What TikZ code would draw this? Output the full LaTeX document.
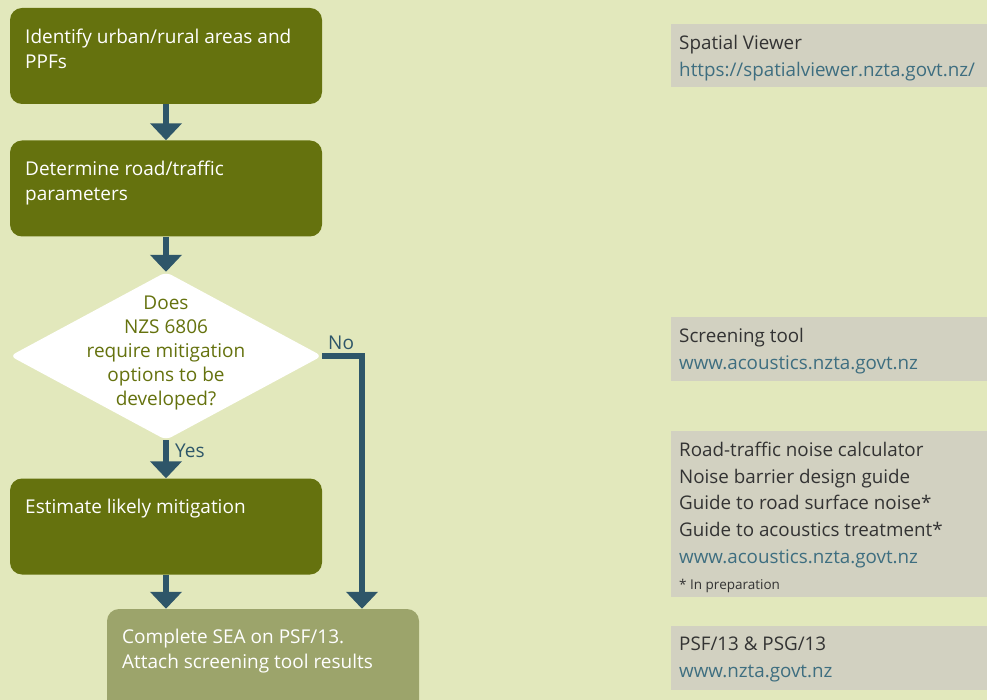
\documentclass[tikz,border=0pt]{standalone}
\usepackage{fontspec}
\setmainfont{Open Sans}
\usetikzlibrary{arrows.meta,shapes.geometric,calc}
\definecolor{bgc}{HTML}{E2E8BC}
\definecolor{olive}{HTML}{65720E}
\definecolor{lolive}{HTML}{9CA46B}
\definecolor{greyb}{HTML}{D2D1C1}
\definecolor{teal}{HTML}{2E5669}
\definecolor{linkc}{HTML}{3E6E80}
\definecolor{darkt}{HTML}{333333}
\tikzset{
  stepbox/.style={fill=olive, rounded corners=12pt, minimum width=312pt, minimum height=96pt, inner sep=0pt},
  lastbox/.style={fill=lolive, rounded corners=12pt, minimum width=312pt, minimum height=104pt, inner sep=0pt},
  boxtext/.style={anchor=north west, text=white, align=left, inner sep=0pt, font=\fontsize{19}{25}\selectfont},
  infobox/.style={fill=greyb, inner sep=0pt, anchor=north west},
  infotext/.style={anchor=north west, text=darkt, align=left, inner sep=0pt, font=\fontsize{18.8}{26.7}\selectfont},
  arr/.style={draw=teal, line width=5.5pt, -{Triangle[length=17pt,width=31pt]}},
  lbl/.style={text=teal, font=\fontsize{19}{22}\selectfont, inner sep=0pt},
}
\begin{document}
\begin{tikzpicture}[x=1pt,y=-1pt]
\clip (0,0) rectangle (987,700);
\fill[bgc] (0,0) rectangle (987,700);
% left flow
\node[stepbox] (b1) at (166,56) {};
\node[boxtext] (t1) at (25,29) {Identify urban/rural areas and\\PPFs};
\node[stepbox] (b2) at (166,188.5) {};
\node[boxtext] (t2) at (25,161) {Determine road/traffic\\parameters};
\node[diamond, fill=white, rounded corners=6pt, minimum width=312pt, minimum height=168pt, inner sep=0pt] (dia) at (166,356) {};
\node[text=olive, align=center, inner sep=0pt, font=\fontsize{19}{24}\selectfont] (dt) at (166,352.5) {Does\\NZS 6806\\require mitigation\\options to be\\developed?};
\node[stepbox] (b3) at (166,526.5) {};
\node[boxtext] (t3) at (25,499) {Estimate likely mitigation};
\node[lastbox] (b4) at (263,661) {};
\node[boxtext] (t4) at (122,629) {Complete SEA on PSF/13.\\Attach screening tool results};
% connectors
\draw[arr] (b1.south) -- (b2.north);
\draw[arr] (b2.south) -- (dia.north);
\draw[arr] (dia.south) -- (b3.north);
\draw[arr] (b3.south) -- (b3.south |- b4.north);
\draw[arr] (dia.east) -| ([xshift=99pt]b4.north);
\node[lbl, anchor=west] (yes) at (175,451) {Yes};
\node[lbl, anchor=west] (no) at (328,343) {No};
% right info boxes
\node[infobox, minimum width=316pt, minimum height=63pt] (ra) at (671,24) {};
\node[infotext] (rat) at (679,35) {Spatial Viewer\\\textcolor{linkc}{https://spatialviewer.nzta.govt.nz/}};
\node[infobox, minimum width=316pt, minimum height=64pt] (rb) at (671,317) {};
\node[infotext] (rbt) at (679,328) {Screening tool\\\textcolor{linkc}{www.acoustics.nzta.govt.nz}};
\node[infobox, minimum width=316pt, minimum height=166pt] (rc) at (671,431) {};
\node[infotext] (rct) at (679,442) {Road-traffic noise calculator\\Noise barrier design guide\\Guide to road surface noise*\\Guide to acoustics treatment*\\\textcolor{linkc}{www.acoustics.nzta.govt.nz}\\[-1pt]{\fontsize{13.5}{14}\selectfont * In preparation}};
\node[infobox, minimum width=316pt, minimum height=64pt] (rd) at (671,626) {};
\node[infotext] (rdt) at (679,637) {PSF/13 \& PSG/13\\\textcolor{linkc}{www.nzta.govt.nz}};
\end{tikzpicture}
\end{document}
